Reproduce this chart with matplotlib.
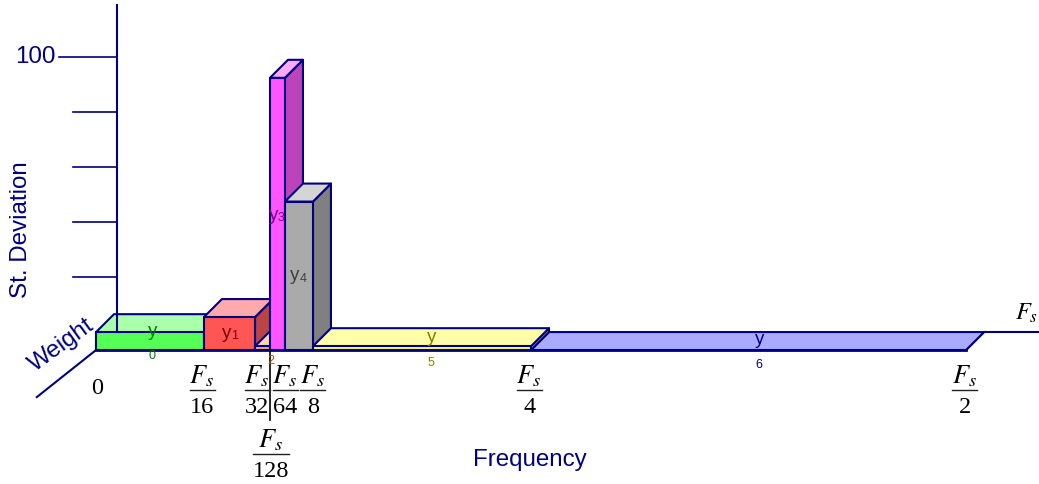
#! /usr/bin/env python

# Oblique 3D bar chart of St. Deviation per wavelet band

import matplotlib
matplotlib.use('Agg')
import matplotlib.pyplot as plt
from matplotlib.lines import Line2D
from matplotlib.patches import Polygon

# Band edges along the frequency axis (0 = left end, 100 = Fs/2)
band_edges = [0, 12.41, 18.28, 20.0, 21.72, 24.94, 50.0, 100.0]
band_std = [6.5, 12.0, 1.4, 99.0, 54.0, 1.4, 0.0]
edge_labels = ['0', '16', '32', '128', '64', '8', '4', '2']
y_ticks = [20, 40, 60, 80, 100]

front_colors = ['#55ff55', '#ff5555', '#ffaa55', '#ff55ff', '#aaaaaa', '#ffff55', '#5555ff']
top_colors = ['#aaffaa', '#ffaaaa', '#ffd5aa', '#ffaaff', '#d5d5d5', '#ffffaa', '#aaaaff']
side_colors = ['#40bf40', '#bb4444', '#bf8040', '#bb44bb', '#808080', '#bfbf40', '#4040bf']
text_colors = ['#008000', '#800000', '#aa5500', '#800080', '#404040', '#808000', '#000080']

NAVY = '#000080'
W, H = 1039, 484
DEPTH_X = 2.07
DEPTH_Y = 6.55
AXIS_X = 2.41

plt.rcParams['font.family'] = ['Liberation Sans', 'DejaVu Sans']
plt.rcParams['mathtext.fontset'] = 'stix'

fig = plt.figure(figsize=(W / 100, H / 100), dpi=100)
ax = fig.add_axes([0, 0, 1, 1])
ax.set_xlim(-11.03, 108.39)
ax.set_ylim(-48.7, 127.3)
ax.axis('off')


def px_text(x, y, s, **kw):
    # Text placed by pixel position in the figure
    kw.setdefault('ha', 'center')
    kw.setdefault('va', 'center')
    fig.text(x / W, 1 - y / H, s, **kw)


def fraction(x, y, lab, half):
    # Fs over a number, y is the pixel height of the fraction bar
    px_text(x - 1, y - 14, r'$F_s$', fontsize=19, color='black')
    fig.add_artist(Line2D([(x - half) / W, (x + half) / W], [1 - y / H, 1 - y / H],
                          color='#202020', lw=1.0))
    px_text(x, y + 17.5, lab, fontsize=17.5, family='Liberation Serif', color='black')


def draw_bar(i):
    x0, x1 = band_edges[i], band_edges[i + 1]
    h = band_std[i]
    dx, dy = DEPTH_X, DEPTH_Y
    style = dict(edgecolor=NAVY, linewidth=1.5, joinstyle='round')
    ax.add_patch(Polygon([(x1, 0), (x1 + dx, dy), (x1 + dx, h + dy), (x1, h)],
                         facecolor=side_colors[i], **style))
    ax.add_patch(Polygon([(x0, h), (x1, h), (x1 + dx, h + dy), (x0 + dx, h + dy)],
                         facecolor=top_colors[i], **style))
    ax.add_patch(Polygon([(x0, 0), (x1, 0), (x1, h), (x0, h)],
                         facecolor=front_colors[i], **style))


# Axes behind the bars
ax.plot([AXIS_X, AXIS_X], [DEPTH_Y, 125.5], color=NAVY, lw=1.5)
for t in y_ticks:
    x_end = -4.25 if t == 100 else -2.64
    ax.plot([x_end, AXIS_X], [t + DEPTH_Y, t + DEPTH_Y], color=NAVY, lw=1.2)
ax.plot([band_edges[-1] + DEPTH_X, 108.3], [DEPTH_Y, DEPTH_Y], color=NAVY, lw=1.5)
ax.plot([0, -6.8], [0, -17.1], color=NAVY, lw=1.5)

# Bars, the flat last band goes first since the band before it sits on top
draw_bar(6)
for i in range(6):
    draw_bar(i)
ax.plot([band_edges[0], band_edges[-1]], [0, 0], color=NAVY, lw=2)

# Black drop line for the Fs/128 edge
ax.plot([band_edges[3], band_edges[3]], [0, -25.5], color='black', lw=1.2)

# Band labels, y and its index are separate texts
px_text(153, 331, 'y', color=text_colors[0], fontsize=13.5)
px_text(152, 356, '0', color=text_colors[0], fontsize=9)
px_text(227, 333, 'y', color=text_colors[1], fontsize=13.5)
px_text(235, 336, '1', color=text_colors[1], fontsize=9)
px_text(271, 361, '2', color=text_colors[2], fontsize=9)
px_text(274, 215, 'y', color=text_colors[3], fontsize=13.5)
px_text(281, 218, '3', color=text_colors[3], fontsize=9)
px_text(295, 276, 'y', color=text_colors[4], fontsize=13.5)
px_text(303, 279, '4', color=text_colors[4], fontsize=9)
px_text(432, 338, 'y', color=text_colors[5], fontsize=13.5)
px_text(431, 363, '5', color=text_colors[5], fontsize=9)
px_text(760, 339, 'y', color=text_colors[6], fontsize=13.5)
px_text(759, 365, '6', color=text_colors[6], fontsize=9)

# Frequency edge labels, as fractions of Fs
bar_y = [None, 390, 390, 454, 390, 390, 390, 390]
label_dx = [1, -1.5, 2, 1, 0.5, 0, -1.5, -1]
for edge, lab, y, off in zip(band_edges, edge_labels, bar_y, label_dx):
    x = 96 + edge * 8.7 + off
    if y is None:
        px_text(x, 388, lab, fontsize=17.5, family='Liberation Serif', color='black')
    else:
        fraction(x, y, lab, 18 if lab == '128' else 12.5)
px_text(1038.5, 313, r'$F_s$', fontsize=17.5, color='black', ha='right')

# Axis titles
px_text(35, 57, '100', color=NAVY, fontsize=17.4)
px_text(21, 230, 'St. Deviation', color=NAVY, fontsize=17.4, rotation=90)
px_text(62, 345, 'Weight', color=NAVY, fontsize=17.4, rotation=36)
px_text(530, 460, 'Frequency', color=NAVY, fontsize=17.4)

fig.savefig('out.png', dpi=100)
